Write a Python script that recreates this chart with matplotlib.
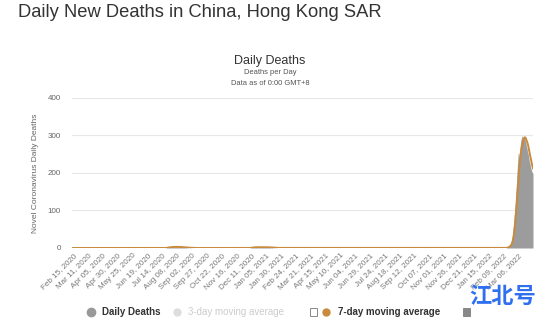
import matplotlib
matplotlib.use("Agg")
import matplotlib.pyplot as plt
from matplotlib.lines import Line2D
from matplotlib.patches import Rectangle
import pandas as pd

plt.rcParams["font.family"] = ["Liberation Sans", "DejaVu Sans"]

# Daily reported deaths, Hong Kong SAR (zero outside waves)
start_date = "2020-02-01"
end_date = "2022-03-31"

wave3_start = "2020-07-20"
wave3_deaths = [1, 0, 2, 1, 2, 3, 1, 2, 3, 2, 4, 3, 2, 3, 4, 3, 2, 3, 4, 2,
                3, 2, 3, 4, 2, 3, 2, 1, 2, 3, 2, 1, 2, 1, 1, 2, 1, 0, 1, 1,
                0, 1, 0, 1, 0, 0, 1]

wave4_start = "2020-12-10"
wave4_deaths = [1, 2, 1, 2, 3, 2, 1, 2, 3, 2, 2, 3, 2, 1, 2, 3, 2, 2, 1, 2,
                3, 2, 1, 2, 2, 3, 2, 1, 2, 1, 2, 2, 1, 2, 1, 1, 2, 1, 0, 1,
                1, 0, 1, 0, 1]

wave5_start = "2022-02-15"
wave5_deaths = [2, 3, 4, 5, 6, 8, 10,
                15, 22, 30, 45, 60, 80, 100,
                120, 145, 170, 200, 225, 250, 255,
                240, 265, 280, 290, 295, 300, 295,
                290, 295, 300, 285, 280, 270, 265,
                255, 250, 240, 230, 225, 215, 210,
                205, 200, 200]

tick_start = "2020-02-15"
tick_count = 31
tick_step = 25

dates = pd.date_range(start_date, end_date, freq="D")
daily = pd.Series(0.0, index=dates)
for s, vals in [(wave3_start, wave3_deaths), (wave4_start, wave4_deaths),
                (wave5_start, wave5_deaths)]:
    idx = pd.date_range(s, periods=len(vals), freq="D")
    daily.loc[idx] = vals
avg7 = daily.rolling(7, min_periods=1).mean()

fig = plt.figure(figsize=(5.4, 3.2), dpi=100)
ax = fig.add_axes([0.133, 0.225, 0.854, 0.469])

ax.fill_between(daily.index, daily.values, color="#9c9c9c", linewidth=0, zorder=2)
ax.plot(avg7.index, avg7.values, color="#c98a3c", linewidth=1.4, zorder=3)

ax.set_ylim(0, 400)
ax.set_yticks([0, 100, 200, 300, 400])
ax.set_xlim(pd.Timestamp("2020-02-13"), pd.Timestamp(end_date))
ticks = pd.date_range(tick_start, periods=tick_count, freq=f"{tick_step}D")
ax.set_xticks(ticks)
ax.set_xticklabels([t.strftime("%b %d, %Y") for t in ticks], rotation=45,
                   ha="right", rotation_mode="anchor", fontsize=5.8, color="#777777")
ax.tick_params(axis="x", length=0, pad=3)
ax.tick_params(axis="y", length=0, labelsize=5.8, labelcolor="#666666", pad=8)
ax.grid(axis="y", color="#e8e8e8", linewidth=0.8, zorder=0)
for sp in ax.spines.values():
    sp.set_visible(False)
ax.set_ylabel("Novel Coronavirus Daily Deaths", fontsize=6, color="#666666", labelpad=6)

fig.text(0.033, 0.962, "Daily New Deaths in China, Hong Kong SAR", fontsize=13.2,
         color="#333333", va="center", ha="left")
fig.text(0.5, 0.81, "Daily Deaths", fontsize=9, color="#333333", ha="center", va="center")
fig.text(0.5, 0.773, "Deaths per Day", fontsize=5.4, color="#555555", ha="center", va="center")
fig.text(0.5, 0.74, "Data as of 0:00 GMT+8", fontsize=5.4, color="#555555", ha="center", va="center")

# legend row along the bottom edge
ly = 1 - 312 / 320
fig.add_artist(Line2D([91 / 540], [ly], marker="o", markersize=6, color="#999999",
                      transform=fig.transFigure))
fig.text(102 / 540, ly, "Daily Deaths", fontsize=7, fontweight="bold", color="#333333", va="center")
fig.add_artist(Line2D([177 / 540], [ly], marker="o", markersize=5, color="#dddddd",
                      transform=fig.transFigure))
fig.text(188 / 540, ly, "3-day moving average", fontsize=7, color="#cccccc", va="center")
fig.add_artist(Rectangle((310 / 540, ly - 0.012), 7 / 540, 0.026, fill=False,
                         edgecolor="#888888", linewidth=0.7, transform=fig.transFigure))
fig.add_artist(Line2D([326 / 540], [ly], marker="o", markersize=5, color="#c98a3c",
                      transform=fig.transFigure))
fig.text(338 / 540, ly, "7-day moving average", fontsize=7, fontweight="bold", color="#333333", va="center")
fig.add_artist(Rectangle((463 / 540, ly - 0.012), 7 / 540, 0.026, fill=True,
                         facecolor="#888888", edgecolor="#888888", linewidth=0.7,
                         transform=fig.transFigure))

fig.text(0.993, 0.075, "江北号", fontsize=16, fontweight="bold", color="#2f6ff0",
         ha="right", va="center", family=["Noto Sans CJK SC", "DejaVu Sans"])

fig.savefig("out.png", dpi=100)
